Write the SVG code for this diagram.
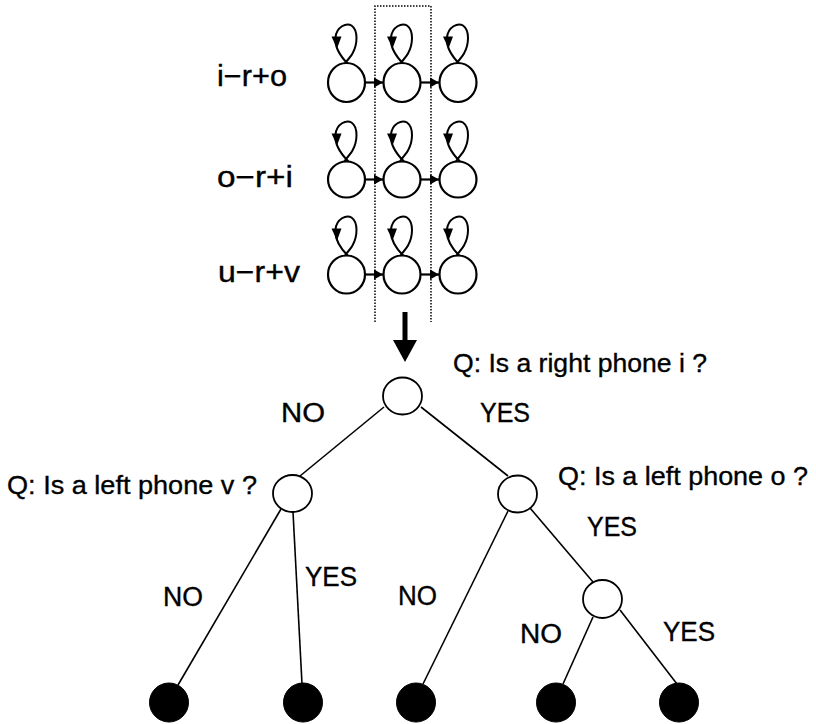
<svg xmlns="http://www.w3.org/2000/svg" xmlns:xlink="http://www.w3.org/1999/xlink" width="816" height="724" viewBox="0 0 816 724">
<style>
  .lbl { font-family: "Liberation Sans", Arial, sans-serif; fill: #000; stroke: #000; stroke-width: 0.35; }
  .hmm { font-size: 29px; }
  .q { font-size: 26px; }
  .yn { font-size: 27px; }
  .state { fill: #fff; stroke: #000; stroke-width: 2.2; }
  .tnode { fill: #fff; stroke: #000; stroke-width: 1.8; }
  .leaf { fill: #000; stroke: #000; stroke-width: 1; }
  .edge { stroke: #000; stroke-width: 1.6; fill: none; }
  .trans { stroke: #000; stroke-width: 2.2; fill: none; }
  .dot { stroke: #000; stroke-width: 1.5; fill: none; stroke-dasharray: 1.5 1.5; }
</style>
<defs>
  <marker id="ah" markerWidth="10" markerHeight="12" refX="9" refY="6" orient="auto" markerUnits="userSpaceOnUse">
    <path d="M0,1 L9,6 L0,11 Z" fill="#000"/>
  </marker>
  <g id="loop">
    <path d="M2,-18 C-6,-26 -12,-36 -11,-45 C-10,-56 0,-60 5,-57 C12,-52 11,-38 6,-29 C4,-25 0,-22 -2,-18" fill="none" stroke="#000" stroke-width="2"/>
    <path d="M-15,-46 L-5,-46 L-9.5,-34 Z" fill="#000"/>
  </g>
</defs>

<!-- dotted frame -->
<path class="dot" d="M375,322 L375,6 L431,6 L431,322"/>

<!-- HMM row labels -->
<text class="lbl hmm" x="217" y="86" textLength="70" lengthAdjust="spacingAndGlyphs">i−r+o</text>
<text class="lbl hmm" x="217" y="187" textLength="76" lengthAdjust="spacingAndGlyphs">o−r+i</text>
<text class="lbl hmm" x="218" y="282" textLength="82" lengthAdjust="spacingAndGlyphs">u−r+v</text>

<g id="connectors">
  <!-- HMM transitions -->
  <line class="trans" x1="365" y1="82.5" x2="383" y2="82.5" marker-end="url(#ah)"/>
  <line class="trans" x1="421" y1="82.5" x2="439" y2="82.5" marker-end="url(#ah)"/>
  <line class="trans" x1="365" y1="179.5" x2="383" y2="179.5" marker-end="url(#ah)"/>
  <line class="trans" x1="421" y1="179.5" x2="439" y2="179.5" marker-end="url(#ah)"/>
  <line class="trans" x1="365" y1="274.5" x2="383" y2="274.5" marker-end="url(#ah)"/>
  <line class="trans" x1="421" y1="274.5" x2="439" y2="274.5" marker-end="url(#ah)"/>
  <!-- self loops -->
  <use xlink:href="#loop" x="346.5" y="82.5"/>
  <use xlink:href="#loop" x="402" y="82.5"/>
  <use xlink:href="#loop" x="458" y="82.5"/>
  <use xlink:href="#loop" x="346.5" y="179.5"/>
  <use xlink:href="#loop" x="402" y="179.5"/>
  <use xlink:href="#loop" x="458" y="179.5"/>
  <use xlink:href="#loop" x="346.5" y="274.5"/>
  <use xlink:href="#loop" x="402" y="274.5"/>
  <use xlink:href="#loop" x="458" y="274.5"/>
  <!-- big arrow -->
  <line x1="405" y1="312" x2="405" y2="342" stroke="#000" stroke-width="5"/>
  <path d="M393,340 L417,340 L405,362 Z" fill="#000"/>
  <!-- tree edges -->
  <line class="edge" x1="384" y1="407" x2="300" y2="476"/>
  <line class="edge" x1="421" y1="407" x2="508" y2="476"/>
  <line class="edge" x1="281" y1="509" x2="178" y2="685"/>
  <line class="edge" x1="293" y1="512" x2="302" y2="684"/>
  <line class="edge" x1="508" y1="511" x2="423" y2="684"/>
  <line class="edge" x1="530" y1="508" x2="593" y2="582"/>
  <line class="edge" x1="593" y1="617" x2="563" y2="684"/>
  <line class="edge" x1="620" y1="610" x2="677" y2="684"/>
</g>

<!-- HMM states -->
<g id="s1a"><ellipse class="state" cx="346.5" cy="82.5" rx="18.5" ry="19.5"/></g>
<g id="s1b"><ellipse class="state" cx="402" cy="82.5" rx="18.5" ry="19.5"/></g>
<g id="s1c"><ellipse class="state" cx="458" cy="82.5" rx="18.5" ry="19.5"/></g>
<g id="s2a"><ellipse class="state" cx="346.5" cy="179.5" rx="18.5" ry="18"/></g>
<g id="s2b"><ellipse class="state" cx="402" cy="179.5" rx="18.5" ry="18"/></g>
<g id="s2c"><ellipse class="state" cx="458" cy="179.5" rx="18.5" ry="18"/></g>
<g id="s3a"><ellipse class="state" cx="346.5" cy="274.5" rx="18.5" ry="19"/></g>
<g id="s3b"><ellipse class="state" cx="402" cy="274.5" rx="18.5" ry="19"/></g>
<g id="s3c"><ellipse class="state" cx="458" cy="274.5" rx="18.5" ry="19"/></g>

<!-- tree nodes -->
<g id="root">
  <ellipse class="tnode" cx="402.5" cy="396" rx="19.5" ry="18.5"/>
  <text class="lbl q" x="453" y="372" textLength="254" lengthAdjust="spacingAndGlyphs">Q: Is a right phone i ?</text>
</g>
<g id="n-left">
  <ellipse class="tnode" cx="292.5" cy="493.5" rx="19.5" ry="18.5"/>
  <text class="lbl q" x="7" y="494" textLength="250" lengthAdjust="spacingAndGlyphs">Q: Is a left phone v ?</text>
</g>
<g id="n-right">
  <ellipse class="tnode" cx="517.5" cy="494" rx="19.5" ry="18.5"/>
  <text class="lbl q" x="558" y="485" textLength="250" lengthAdjust="spacingAndGlyphs">Q: Is a left phone o ?</text>
</g>
<g id="n-l3">
  <ellipse class="tnode" cx="602.5" cy="599" rx="19.5" ry="19"/>
</g>
<g id="leaf1"><ellipse class="leaf" cx="169" cy="702.5" rx="19.5" ry="19.5"/></g>
<g id="leaf2"><ellipse class="leaf" cx="303" cy="702.5" rx="19.5" ry="19.5"/></g>
<g id="leaf3"><ellipse class="leaf" cx="416" cy="702.5" rx="19.5" ry="19.5"/></g>
<g id="leaf4"><ellipse class="leaf" cx="556" cy="702.5" rx="19.5" ry="19.5"/></g>
<g id="leaf5"><ellipse class="leaf" cx="679" cy="702.5" rx="19.5" ry="19.5"/></g>

<!-- edge labels -->
<g id="edge-labels">
  <text class="lbl yn" x="281" y="422" textLength="44" lengthAdjust="spacingAndGlyphs">NO</text>
  <text class="lbl yn" x="480" y="422" textLength="50" lengthAdjust="spacingAndGlyphs">YES</text>
  <text class="lbl yn" x="163" y="606" textLength="40" lengthAdjust="spacingAndGlyphs">NO</text>
  <text class="lbl yn" x="305" y="586" textLength="52" lengthAdjust="spacingAndGlyphs">YES</text>
  <text class="lbl yn" x="398" y="605" textLength="39" lengthAdjust="spacingAndGlyphs">NO</text>
  <text class="lbl yn" x="587" y="536" textLength="50" lengthAdjust="spacingAndGlyphs">YES</text>
  <text class="lbl yn" x="520" y="643" textLength="42" lengthAdjust="spacingAndGlyphs">NO</text>
  <text class="lbl yn" x="663" y="641" textLength="52" lengthAdjust="spacingAndGlyphs">YES</text>
</g>
</svg>
